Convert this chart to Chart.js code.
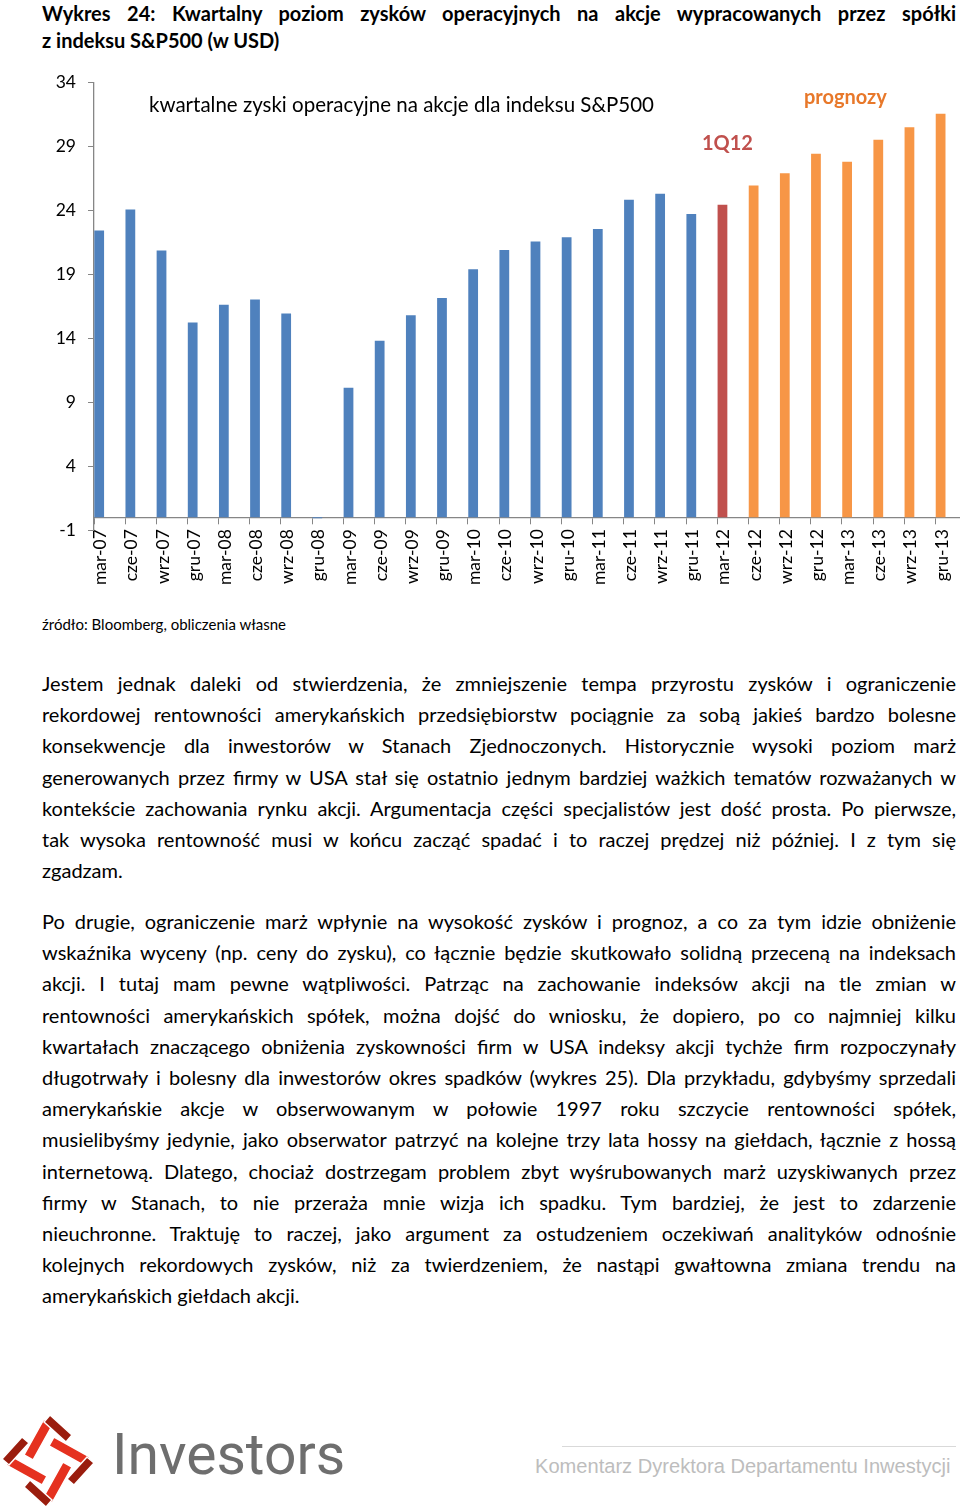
<!DOCTYPE html>
<html lang="pl">
<head>
<meta charset="utf-8">
<script src="https://cdn.jsdelivr.net/npm/chart.js@4"></script>
<style>
  html, body { margin: 0; padding: 0; background: #fff; overflow: hidden; }
  body { width: 960px; height: 1509px; position: relative; font-family: Lato, "Open Sans", sans-serif; color: #000; }
  .abs { position: absolute; white-space: nowrap; }
  #title { position: absolute; left: 42px; top: 0; width: 914px; font-weight: bold; font-size: 20px; line-height: 27px; }
  .jl { display: block; white-space: nowrap; text-align: justify; text-align-last: justify; }
  .ln { display: block; white-space: nowrap; }
  #chartBox { position: absolute; left: 0; top: 60px; width: 978px; height: 540px; }
  #text { position: absolute; left: 42px; top: 668px; width: 914px; font-size: 20px; line-height: 31.2px; }
  #text p { margin: 0 0 19.5px 0; }
</style>
</head>
<body>
<div id="title">
  <div class="jl">Wykres 24: Kwartalny poziom zysków operacyjnych na akcje wypracowanych przez spółki</div>
  <div class="ln">z indeksu S&amp;P500 (w USD)</div>
</div>

<div id="chartBox"><canvas id="chartZyski"></canvas></div>

<div class="abs" style="left:149px; top:92px; font-size:20.5px;">kwartalne zyski operacyjne na akcje dla indeksu S&amp;P500</div>
<div class="abs" style="left:702px; top:130px; font-size:20px; font-weight:bold; color:#C0504D;">1Q12</div>
<div class="abs" style="left:804px; top:84px; font-size:20px; font-weight:bold; color:#E8782A;">prognozy</div>

<div class="abs" style="left:42px; top:615px; font-size:15px;">źródło: Bloomberg, obliczenia własne</div>

<div id="text">
  <p>
    <span class="jl">Jestem jednak daleki od stwierdzenia, że zmniejszenie tempa przyrostu zysków i ograniczenie</span>
    <span class="jl">rekordowej rentowności amerykańskich przedsiębiorstw pociągnie za sobą jakieś bardzo bolesne</span>
    <span class="jl">konsekwencje dla inwestorów w Stanach Zjednoczonych. Historycznie wysoki poziom marż</span>
    <span class="jl">generowanych przez firmy w USA stał się ostatnio jednym bardziej ważkich tematów rozważanych w</span>
    <span class="jl">kontekście zachowania rynku akcji. Argumentacja części specjalistów jest dość prosta. Po pierwsze,</span>
    <span class="jl">tak wysoka rentowność musi w końcu zacząć spadać i to raczej prędzej niż później. I z tym się</span>
    <span class="ln">zgadzam.</span>
  </p>
  <p>
    <span class="jl">Po drugie, ograniczenie marż wpłynie na wysokość zysków i prognoz, a co za tym idzie obniżenie</span>
    <span class="jl">wskaźnika wyceny (np. ceny do zysku), co łącznie będzie skutkowało solidną przeceną na indeksach</span>
    <span class="jl">akcji. I tutaj mam pewne wątpliwości. Patrząc na zachowanie indeksów akcji na tle zmian w</span>
    <span class="jl">rentowności amerykańskich spółek, można dojść do wniosku, że dopiero, po co najmniej kilku</span>
    <span class="jl">kwartałach znaczącego obniżenia zyskowności firm w USA indeksy akcji tychże firm rozpoczynały</span>
    <span class="jl">długotrwały i bolesny dla inwestorów okres spadków (wykres 25). Dla przykładu, gdybyśmy sprzedali</span>
    <span class="jl">amerykańskie akcje w obserwowanym w połowie 1997 roku szczycie rentowności spółek,</span>
    <span class="jl">musielibyśmy jedynie, jako obserwator patrzyć na kolejne trzy lata hossy na giełdach, łącznie z hossą</span>
    <span class="jl">internetową. Dlatego, chociaż dostrzegam problem zbyt wyśrubowanych marż uzyskiwanych przez</span>
    <span class="jl">firmy w Stanach, to nie przeraża mnie wizja ich spadku. Tym bardziej, że jest to zdarzenie</span>
    <span class="jl">nieuchronne. Traktuję to raczej, jako argument za ostudzeniem oczekiwań analityków odnośnie</span>
    <span class="jl">kolejnych rekordowych zysków, niż za twierdzeniem, że nastąpi gwałtowna zmiana trendu na</span>
    <span class="ln">amerykańskich giełdach akcji.</span>
  </p>
</div>

<!-- stopka: logo -->
<svg class="abs" style="left:0; top:1412px;" width="100" height="97" viewBox="0 0 100 97">
  <defs>
    <g id="ramie">
      <polygon points="-4,-42 -24,-6 -15,-1 5,-37" fill="#E5311F" stroke="#fff" stroke-width="1.5"/>
      <polygon points="2,-46 24,-26 18,-19 -4,-39" fill="#9A1D0E" stroke="#fff" stroke-width="1.5"/>
    </g>
  </defs>
  <g transform="translate(48,49)">
    <use href="#ramie"/>
    <use href="#ramie" transform="rotate(90)"/>
    <use href="#ramie" transform="rotate(180)"/>
    <use href="#ramie" transform="rotate(270)"/>
  </g>
</svg>
<div class="abs" style="left:112px; top:1421px; font-family:Roboto, sans-serif; font-size:57px; color:#6E6E6E;">Investors</div>
<div class="abs" style="left:562px; top:1446px; width:394px; height:1px; background:#D9D9D9;"></div>
<div class="abs" style="left:535px; top:1455px; font-family:'Liberation Sans', Arial, sans-serif; font-size:20.1px; color:#BDBDBD;">Komentarz Dyrektora Departamentu Inwestycji</div>

<script>
// kwartały (mar/cze/wrz/gru) 2007-2013
const kwartaly = [
  "mar-07", "cze-07", "wrz-07", "gru-07",
  "mar-08", "cze-08", "wrz-08", "gru-08",
  "mar-09", "cze-09", "wrz-09", "gru-09",
  "mar-10", "cze-10", "wrz-10", "gru-10",
  "mar-11", "cze-11", "wrz-11", "gru-11",
  "mar-12", "cze-12", "wrz-12", "gru-12",
  "mar-13", "cze-13", "wrz-13", "gru-13"
];
// zyski operacyjne na akcje S&P500 (USD)
const zyski = [
  22.42, 24.06, 20.87, 15.22,
  16.62, 17.03, 15.94, -0.09,
  10.12, 13.80, 15.79, 17.14,
  19.39, 20.89, 21.57, 21.90,
  22.55, 24.83, 25.30, 23.71,
  24.44, 25.94, 26.90, 28.43,
  27.81, 29.52, 30.50, 31.56
];
// f = dane faktyczne, q = 1Q12, p = prognoza
const rodzaj = [
  "f", "f", "f", "f", "f", "f", "f", "f", "f", "f",
  "f", "f", "f", "f", "f", "f", "f", "f", "f", "f",
  "q", "p", "p", "p", "p", "p", "p", "p"
];
const osY = [-1, 4, 9, 14, 19, 24, 29, 34];

const kolory = { f: "#4F81BD", q: "#C0504D", p: "#F79646" };
const szary = "#868686";

const ctx = document.getElementById("chartZyski");
const wykres = new Chart(ctx, {
  type: "bar",
  data: {
    labels: kwartaly,
    datasets: [
      {
        label: "zyski",
        data: zyski,
        backgroundColor: rodzaj.map((r) => kolory[r]),
        borderWidth: 0,
      },
      // puste serie - słupek po lewej stronie kategorii jak w Excelu
      { label: "pusta1", data: [] },
      { label: "pusta2", data: [] },
    ],
  },
  options: {
    responsive: true,
    maintainAspectRatio: false,
    animation: false,
    categoryPercentage: 1,
    barPercentage: 0.94,
    layout: { padding: { top: 20, bottom: 70, left: 0, right: 0 } },
    plugins: {
      legend: { display: false },
      tooltip: { enabled: false },
    },
    scales: {
      x: {
        position: { y: 0 },
        grid: {
          offset: true,
          drawOnChartArea: false,
          color: szary,
          tickLength: 6,
        },
        border: { color: szary, width: 1.3 },
        ticks: {
          autoSkip: false,
          minRotation: 90,
          maxRotation: 90,
          labelOffset: -9,
          padding: 6,
          color: "#000",
          font: { family: "Lato", size: 17.5 },
        },
      },
      y: {
        min: -1,
        max: 34,
        afterBuildTicks: (scale) => {
          scale.ticks = osY.map((v) => ({ value: v }));
        },
        afterFit: (scale) => {
          scale.width = 94;
        },
        grid: {
          drawOnChartArea: false,
          color: szary,
          tickLength: 6,
        },
        border: { color: szary, width: 1.3 },
        ticks: {
          padding: 12,
          color: "#000",
          font: { family: "Lato", size: 17.5 },
        },
      },
    },
  },
});
</script>
</body>
</html>
